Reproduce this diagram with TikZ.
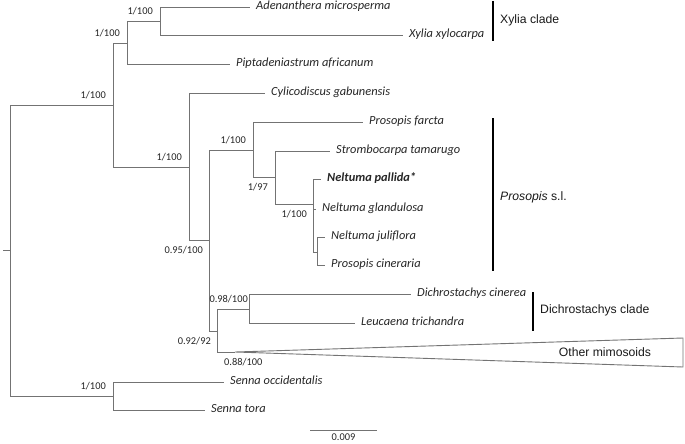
\documentclass[tikz,border=0pt]{standalone}
\usepackage{fontspec}
\setmainfont{Carlito}
\newfontfamily\cladefont{Liberation Sans}
\usepackage{tikz}

\tikzset{
  branch/.style={draw=black!55, line width=0.9pt},
  taxon/.style={anchor=mid west, inner sep=0pt, xshift=6pt, text=black!85,
    font=\fontsize{12.4}{14}\selectfont\itshape},
  support/.style={inner sep=0pt, text=black!85, font=\fontsize{10.4}{12}\selectfont},
  supportabove/.style={support, anchor=base east, xshift=-7pt, yshift=6.5pt},
  supportbelow/.style={support, anchor=base east, xshift=-7pt, yshift=-13.5pt},
  cladebar/.style={draw=black, line width=1.5pt},
  cladename/.style={anchor=west, inner sep=0pt, text=black!90,
    font=\cladefont\fontsize{12.2}{14}\selectfont},
}

\begin{document}
\begin{tikzpicture}[x=1pt, y=-1pt]
        \useasboundingbox (0,0) rectangle (685,444);
        % inner nodes of the tree
        \foreach \n/\x/\y in {rt/3/250, r/10/250, n1/113/105, n2/127/43, n3/160/21, n5/189/167,
                              n6/209/240, n7/253/150, n8/275/177, n9/313/204, n11/317/252,
                              n10/217/331, n12/249/309, ns/113/396}{
            \coordinate (\n) at (\x,\y);
        }
        % tips and their names
        \foreach \n/\x/\y/\w in {ad/250/7/Adenanthera microsperma, xy/403/35/Xylia xylocarpa,
                                 pi/230/64/Piptadeniastrum africanum, cy/265/93/Cylicodiscus gabunensis,
                                 pf/363/122/Prosopis farcta, st/330/151/Strombocarpa tamarugo,
                                 np/321/179/\textbf{Neltuma pallida*}, ng/316/209/Neltuma glandulosa,
                                 nj/325/237/Neltuma juliflora, pc/325/265/Prosopis cineraria,
                                 dc/411/294/Dichrostachys cinerea, lt/355/323/Leucaena trichandra,
                                 so/224/382/Senna occidentalis, sto/205/410/Senna tora}{
            \coordinate (\n) at (\x,\y);
            \node[taxon] (l\n) at (\n) {\w};
        }
        \path[branch] (rt) -- (r);
        \path[branch] (r) |- (n1);
        \path[branch] (r) |- (ns);
        \path[branch] (n1) |- (n2);
        \path[branch] (n1) |- (n5);
        \path[branch] (n2) |- (n3);
        \path[branch] (n2) |- (pi);
        \path[branch] (n3) |- (ad);
        \path[branch] (n3) |- (xy);
        \path[branch] (n5) |- (cy);
        \path[branch] (n5) |- (n6);
        \path[branch] (n6) |- (n7);
        \path[branch] (n6) |- (n10);
        \path[branch] (n7) |- (pf);
        \path[branch] (n7) |- (n8);
        \path[branch] (n8) |- (st);
        \path[branch] (n8) |- (n9);
        \path[branch] (n9) |- (np);
        \path[branch] (n9) |- (ng);
        \path[branch] (n9) |- (n11);
        \path[branch] (n11) |- (nj);
        \path[branch] (n11) |- (pc);
        \path[branch] (n10) |- (n12);
        \path[branch] (n12) |- (dc);
        \path[branch] (n12) |- (lt);
        \path[branch] (ns) |- (so);
        \path[branch] (ns) |- (sto);
        % collapsed clade
        \coordinate (om) at (235,352);
        \coordinate (omt) at (683,338);
        \coordinate (omb) at (683,367);
        \path[branch] (n10) |- (om);
        \path[branch] (om) -- (omt) -- (omb) -- cycle;
        \node[cladename, anchor=center] (lom) at (605,352) {Other mimosoids};
        % support values
        \node[supportabove] (s1) at (n1) {1/100};
        \node[supportabove] (s2) at (n2) {1/100};
        \node[supportabove] (s3) at (n3) {1/100};
        \node[supportabove] (s5) at (n5) {1/100};
        \node[supportabove] (s7) at (n7) {1/100};
        \node[supportabove, xshift=6pt] (s12) at (n12) {0.98/100};
        \node[supportabove] (ss) at (ns) {1/100};
        \node[supportbelow, xshift=1pt] (s6) at (n6) {0.95/100};
        \node[supportbelow] (s8) at (n8) {1/97};
        \node[supportbelow, xshift=1pt] (s9) at (n9) {1/100};
        \node[supportbelow, xshift=1pt] (s10) at (n10) {0.92/92};
        \node[support, anchor=base west, xshift=7pt, yshift=-13.5pt] (som) at (n10 |- om) {0.88/100};
        % clades
        \coordinate (xb1) at (493,1);   \coordinate (xb2) at (493,41);
        \coordinate (pb1) at (493,118); \coordinate (pb2) at (493,271);
        \coordinate (db1) at (533,292); \coordinate (db2) at (533,331);
        \path[cladebar] (xb1) -- (xb2);
        \path[cladebar] (pb1) -- (pb2);
        \path[cladebar] (db1) -- (db2);
        \node[cladename] (lx) at (500,20) {Xylia clade};
        \node[cladename] (lp) at (500,197) {\itshape Prosopis\upshape{} s.l.};
        \node[cladename] (ld) at (540,310) {Dichrostachys clade};
        % scale
        \coordinate (sb1) at (310,430);
        \coordinate (sb2) at (377,430);
        \path[branch] (sb1) -- node[support, below=3pt] (lsb) {0.009} (sb2);
    \end{tikzpicture}
\end{document}
